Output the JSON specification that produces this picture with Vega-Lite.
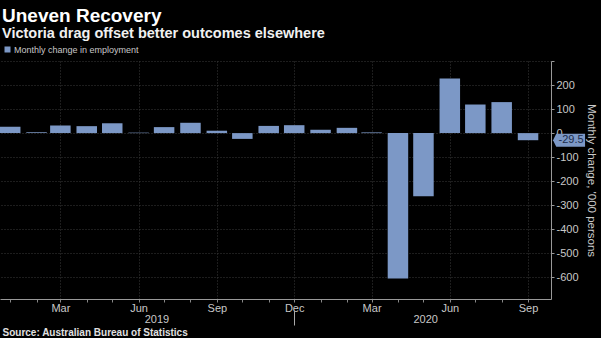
{
  "$schema": "https://vega.github.io/schema/vega-lite/v6.json",
  "width": 551,
  "height": 238,
  "autosize": {"type": "none"},
  "padding": {"left": 0, "top": 61, "right": 50, "bottom": 39},
  "background": "#000000",
  "title": {
    "text": "Uneven Recovery",
    "subtitle": "Victoria drag offset better outcomes elsewhere",
    "anchor": "start",
    "frame": "group",
    "dx": 2,
    "offset": 5,
    "font": "Liberation Sans",
    "fontSize": 19,
    "fontWeight": "bold",
    "color": "#ffffff",
    "subtitleFont": "Liberation Sans",
    "subtitleFontSize": 14.5,
    "subtitleFontWeight": "bold",
    "subtitleColor": "#f0f0f0",
    "subtitlePadding": 1
  },
  "config": {
    "view": {"stroke": null},
    "font": "Liberation Sans"
  },
  "data": {
    "values": [
      {"date": "2019-01-01T00:00", "value": 27},
      {"date": "2019-02-01T00:00", "value": 4},
      {"date": "2019-03-01T00:00", "value": 32},
      {"date": "2019-04-01T00:00", "value": 29},
      {"date": "2019-05-01T00:00", "value": 41},
      {"date": "2019-06-01T00:00", "value": 2},
      {"date": "2019-07-01T00:00", "value": 25},
      {"date": "2019-08-01T00:00", "value": 43},
      {"date": "2019-09-01T00:00", "value": 10},
      {"date": "2019-10-01T00:00", "value": -24},
      {"date": "2019-11-01T00:00", "value": 30},
      {"date": "2019-12-01T00:00", "value": 33},
      {"date": "2020-01-01T00:00", "value": 14},
      {"date": "2020-02-01T00:00", "value": 22},
      {"date": "2020-03-01T00:00", "value": 3},
      {"date": "2020-04-01T00:00", "value": -605},
      {"date": "2020-05-01T00:00", "value": -263},
      {"date": "2020-06-01T00:00", "value": 227},
      {"date": "2020-07-01T00:00", "value": 119},
      {"date": "2020-08-01T00:00", "value": 129},
      {"date": "2020-09-01T00:00", "value": -29.5}
    ]
  },
  "layer": [
    {
      "mark": {"type": "bar", "width": 20.5},
      "encoding": {
        "x": {
          "field": "date",
          "type": "temporal",
          "scale": {"domain": [{"year": 2018, "month": 12, "date": 20}, {"year": 2020, "month": 9, "date": 28}], "nice": false, "padding": 0},
          "axis": {
            "orient": "bottom",
            "title": null,
            "tickCount": {"interval": "month", "step": 1},
            "labelExpr": "month(datum.value)%3==2 ? timeFormat(datum.value,'%b') : ''",
            "labelFontSize": 11,
            "labelColor": "#c8c8c8",
            "labelPadding": 0,
            "labelFlush": false,
            "labelOverlap": false,
            "tickSize": 3,
            "tickColor": "#888888",
            "domainColor": "#999999",
            "grid": true,
            "gridColor": "#3a3a3a",
            "gridDash": [1, 2],
            "gridOpacity": {"condition": {"test": "month(datum.value)%3==2", "value": 1}, "value": 0}
          }
        },
        "y": {
          "field": "value",
          "type": "quantitative",
          "scale": {"domain": [-690, 300], "nice": false, "zero": false, "padding": 0},
          "axis": {
            "orient": "right",
            "title": "Monthly change, '000 persons",
            "titleFontSize": 11.5,
            "titleFontWeight": "normal",
            "titleColor": "#c8c8c8",
            "titlePadding": 7,
            "values": [-600, -500, -400, -300, -200, -100, 0, 100, 200, 300],
            "labelExpr": "datum.value == 300 ? '' : '' + datum.value",
            "labelOverlap": false,
            "labelFontSize": 11,
            "labelColor": "#c8c8c8",
            "labelPadding": 2,
            "tickSize": 3,
            "tickColor": "#999999",
            "domainColor": "#999999",
            "grid": true,
            "gridColor": "#3a3a3a",
            "gridDash": [1, 2]
          }
        },
        "color": {
          "datum": "Monthly change in employment",
          "type": "nominal",
          "scale": {"range": ["#7c98c6"]},
          "legend": {
            "title": null,
            "orient": "none",
            "legendX": 3,
            "legendY": -16,
            "symbolType": "square",
            "symbolSize": 36,
            "labelFontSize": 9,
            "labelColor": "#c8c8c8",
            "labelOffset": 2
          }
        }
      }
    },
    {
      "mark": {"type": "rule", "opacity": 0},
      "encoding": {
        "x": {
          "field": "date",
          "type": "temporal",
          "axis": {
            "orient": "bottom",
            "title": "Source: Australian Bureau of Statistics",
            "titleFontSize": 10,
            "titleFontWeight": "bold",
            "titleColor": "#e0e0e0",
            "titleAnchor": "start",
            "titleAlign": "left",
            "titleBaseline": "alphabetic",
            "titleX": 2,
            "titleY": 25,
            "offset": 11,
            "domain": false,
            "grid": false,
            "ticks": true,
            "values": [
              {"year": 2019, "month": 6, "date": 22},
              {"year": 2019, "month": 12, "date": 1},
              {"year": 2020, "month": 5, "date": 3}
            ],
            "labelExpr": "month(datum.value)==11 ? '' : timeFormat(datum.value,'%Y')",
            "labelFontSize": 11,
            "labelColor": "#c8c8c8",
            "labelPadding": -12,
            "labelFlush": false,
            "labelOverlap": false,
            "tickSize": 15,
            "tickWidth": 1,
            "tickColor": "#aaaaaa",
            "tickOpacity": {"condition": {"test": "month(datum.value)==11", "value": 1}, "value": 0},
            "zindex": 1
          }
        }
      }
    },
    {
      "transform": [{"filter": "datum.value == -29.5"}],
      "mark": {
        "type": "point",
        "filled": true,
        "opacity": 1,
        "shape": "M -1 0 L -0.8 -0.41 L 1 -0.41 L 1 0.41 L -0.8 0.41 Z",
        "size": 1024,
        "color": "#7c98c6",
        "xOffset": 41
      },
      "encoding": {
        "x": {"field": "date", "type": "temporal", "axis": null},
        "y": {
          "field": "value",
          "type": "quantitative",
          "axis": {
            "orient": "right",
            "title": "Monthly change, '000 persons",
            "titleFontSize": 11.5,
            "titleFontWeight": "normal",
            "titleColor": "#c8c8c8",
            "titlePadding": 7,
            "values": [-600, -500, -400, -300, -200, -100, 0, 100, 200, 300],
            "labelExpr": "datum.value == 300 ? '' : '' + datum.value",
            "labelOverlap": false,
            "labelFontSize": 11,
            "labelColor": "#c8c8c8",
            "labelPadding": 2,
            "tickSize": 3,
            "tickColor": "#999999",
            "domainColor": "#999999",
            "grid": true,
            "gridColor": "#3a3a3a",
            "gridDash": [1, 2]
          }
        }
      }
    },
    {
      "transform": [{"filter": "datum.value == -29.5"}],
      "mark": {
        "type": "text",
        "fontSize": 11,
        "color": "#1b2c4c",
        "align": "center",
        "baseline": "middle",
        "dx": 43
      },
      "encoding": {
        "x": {"field": "date", "type": "temporal", "axis": null},
        "y": {
          "field": "value",
          "type": "quantitative",
          "axis": {
            "orient": "right",
            "title": "Monthly change, '000 persons",
            "titleFontSize": 11.5,
            "titleFontWeight": "normal",
            "titleColor": "#c8c8c8",
            "titlePadding": 7,
            "values": [-600, -500, -400, -300, -200, -100, 0, 100, 200, 300],
            "labelExpr": "datum.value == 300 ? '' : '' + datum.value",
            "labelOverlap": false,
            "labelFontSize": 11,
            "labelColor": "#c8c8c8",
            "labelPadding": 2,
            "tickSize": 3,
            "tickColor": "#999999",
            "domainColor": "#999999",
            "grid": true,
            "gridColor": "#3a3a3a",
            "gridDash": [1, 2]
          }
        },
        "text": {"field": "value", "type": "nominal"}
      }
    }
  ],
  "resolve": {"axis": {"x": "independent"}}
}
